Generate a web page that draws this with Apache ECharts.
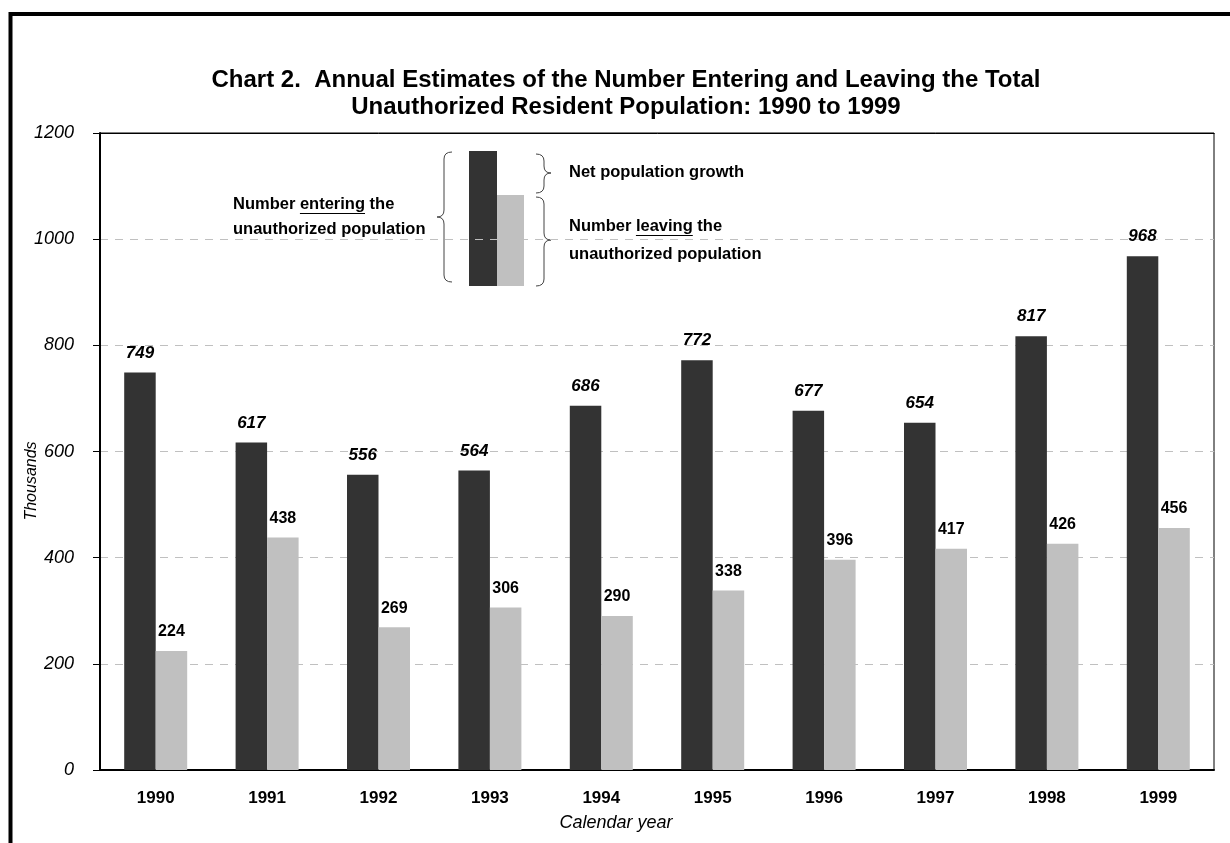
<!DOCTYPE html>
<html>
<head>
<meta charset="utf-8">
<script src="https://cdn.jsdelivr.net/npm/echarts@6/dist/echarts.min.js"></script>
<style>
html,body{margin:0;padding:0;background:#fff;}
#chart{width:1230px;height:843px;}
</style>
</head>
<body>
<div id="chart"></div>
<script>
var categories = ['1990','1991','1992','1993','1994','1995','1996','1997','1998','1999'];
var entering = [749, 617, 556, 564, 686, 772, 677, 654, 817, 968];
var leaving = [224, 438, 269, 306, 290, 338, 396, 417, 426, 456];
var yTicks = [0, 200, 400, 600, 800, 1000, 1200];

var FONT = '"Liberation Sans", Arial, sans-serif';
var DARK = '#333333';
var LIGHT = '#c0c0c0';

var chart = echarts.init(document.getElementById('chart'), null, {renderer: 'canvas'});

function textW(str, font) {
  var c = document.createElement('canvas').getContext('2d');
  c.font = font;
  return c.measureText(str).width;
}
var legFont = 'bold 16.5px ' + FONT;
var braceStyle = {fill: 'none', stroke: '#444', lineWidth: 1};

function txt(x, y, s, font, align) {
  return {type: 'text', x: x, y: y, style: {text: s, font: font, fill: '#000', align: align || 'left', verticalAlign: 'middle'}};
}

function underlinedLine(x, y, pre, word, post) {
  var w1 = textW(pre, legFont);
  var w2 = textW(word, legFont);
  return [
    txt(x, y, pre + word + post, legFont),
    {type: 'line', shape: {x1: x + w1, y1: y + 9.5, x2: x + w1 + w2, y2: y + 9.5}, style: {stroke: '#000', lineWidth: 1}}
  ];
}

// brace: ends at (xe, y0) and (xe, y1), spine at xs, tip at (xt, ym)
function brace(xe, xs, xt, y0, ym, y1) {
  var r = 7;
  function q(ax, ay, cx, cy, bx, by) {
    return {type: 'bezierCurve', shape: {x1: ax, y1: ay, x2: bx, y2: by, cpx1: cx, cpy1: cy}, style: braceStyle};
  }
  function l(ax, ay, bx, by) {
    return {type: 'line', shape: {x1: ax, y1: ay, x2: bx, y2: by}, style: braceStyle};
  }
  return [
    q(xe, y0, xs, y0, xs, y0 + r),
    l(xs, y0 + r, xs, ym - r),
    q(xs, ym - r, xs, ym, xt, ym),
    q(xt, ym, xs, ym, xs, ym + r),
    l(xs, ym + r, xs, y1 - r),
    q(xs, y1 - r, xs, y1, xe, y1)
  ];
}

var graphics = [
  {type: 'rect', shape: {x: 10.5, y: 14, width: 1400, height: 1000}, style: {fill: 'none', stroke: '#000', lineWidth: 4}, z: 10},
  {type: 'line', shape: {x1: 100, y1: 133.5, x2: 1214.5, y2: 133.5}, style: {stroke: '#000', lineWidth: 1}, z: 10},
  {type: 'text', x: 626, y: 80, style: {text: 'Chart 2.  Annual Estimates of the Number Entering and Leaving the Total', font: 'bold 24px ' + FONT, fill: '#000', align: 'center', verticalAlign: 'middle'}},
  {type: 'text', x: 626, y: 107, style: {text: 'Unauthorized Resident Population: 1990 to 1999', font: 'bold 24px ' + FONT, fill: '#000', align: 'center', verticalAlign: 'middle'}},
  {type: 'text', x: 32, y: 481, rotation: Math.PI / 2, style: {text: 'Thousands', font: 'italic 16px ' + FONT, fill: '#000', align: 'center', verticalAlign: 'middle'}},
  {type: 'text', x: 616, y: 823, style: {text: 'Calendar year', font: 'italic 18px ' + FONT, fill: '#000', align: 'center', verticalAlign: 'middle'}},
  // legend key
  {type: 'rect', shape: {x: 469, y: 151, width: 28, height: 135}, style: {fill: DARK}},
  {type: 'rect', shape: {x: 497, y: 195, width: 27, height: 91}, style: {fill: LIGHT}},
  txt(569, 172, 'Net population growth', legFont),
  txt(233, 229, 'unauthorized population', legFont),
  txt(569, 254, 'unauthorized population', legFont)
];
graphics = graphics.concat(brace(452, 444, 437, 152, 217, 282));
graphics = graphics.concat(brace(536, 544, 551, 154, 173, 193));
graphics = graphics.concat(brace(536, 544, 551, 197, 240, 286));
graphics = graphics.concat(underlinedLine(233, 204, 'Number ', 'entering', ' the'));
graphics = graphics.concat(underlinedLine(569, 226, 'Number ', 'leaving', ' the'));

var option = {
  animation: false,
  backgroundColor: '#fff',
  grid: {left: 100, right: 16, top: 133, bottom: 73, show: true, borderColor: '#000', borderWidth: 1, backgroundColor: 'transparent'},
  xAxis: {
    type: 'category',
    data: categories,
    boundaryGap: true,
    axisLine: {show: true, lineStyle: {color: '#000', width: 2}},
    axisTick: {show: false},
    axisLabel: {color: '#000', fontFamily: FONT, fontWeight: 'bold', fontSize: 17, margin: 20}
  },
  yAxis: {
    type: 'value',
    min: 0, max: 1200, interval: 200,
    axisLine: {show: true, lineStyle: {color: '#000', width: 2}},
    axisTick: {show: true, inside: false, length: 7, lineStyle: {color: '#000', width: 1}},
    axisLabel: {color: '#000', fontFamily: FONT, fontStyle: 'italic', fontSize: 18, margin: 26,
      formatter: function (v) { return yTicks.indexOf(v) >= 0 ? String(v) : ''; }},
    splitLine: {show: true, lineStyle: {color: LIGHT, type: [8, 7], width: 1}}
  },
  series: [
    {
      name: 'Number entering the unauthorized population',
      type: 'bar',
      data: entering,
      barWidth: 31.5,
      barGap: '0%',
      itemStyle: {color: DARK},
      label: {show: true, position: 'top', distance: 11, color: '#000', fontFamily: FONT, fontWeight: 'bold', fontStyle: 'italic', fontSize: 17}
    },
    {
      name: 'Number leaving the unauthorized population',
      type: 'bar',
      data: leaving,
      barWidth: 31.5,
      barGap: '0%',
      itemStyle: {color: LIGHT},
      label: {show: true, position: 'top', distance: 11, color: '#000', fontFamily: FONT, fontWeight: 'bold', fontSize: 16}
    }
  ],
  graphic: graphics
};
chart.setOption(option);
</script>
</body>
</html>
